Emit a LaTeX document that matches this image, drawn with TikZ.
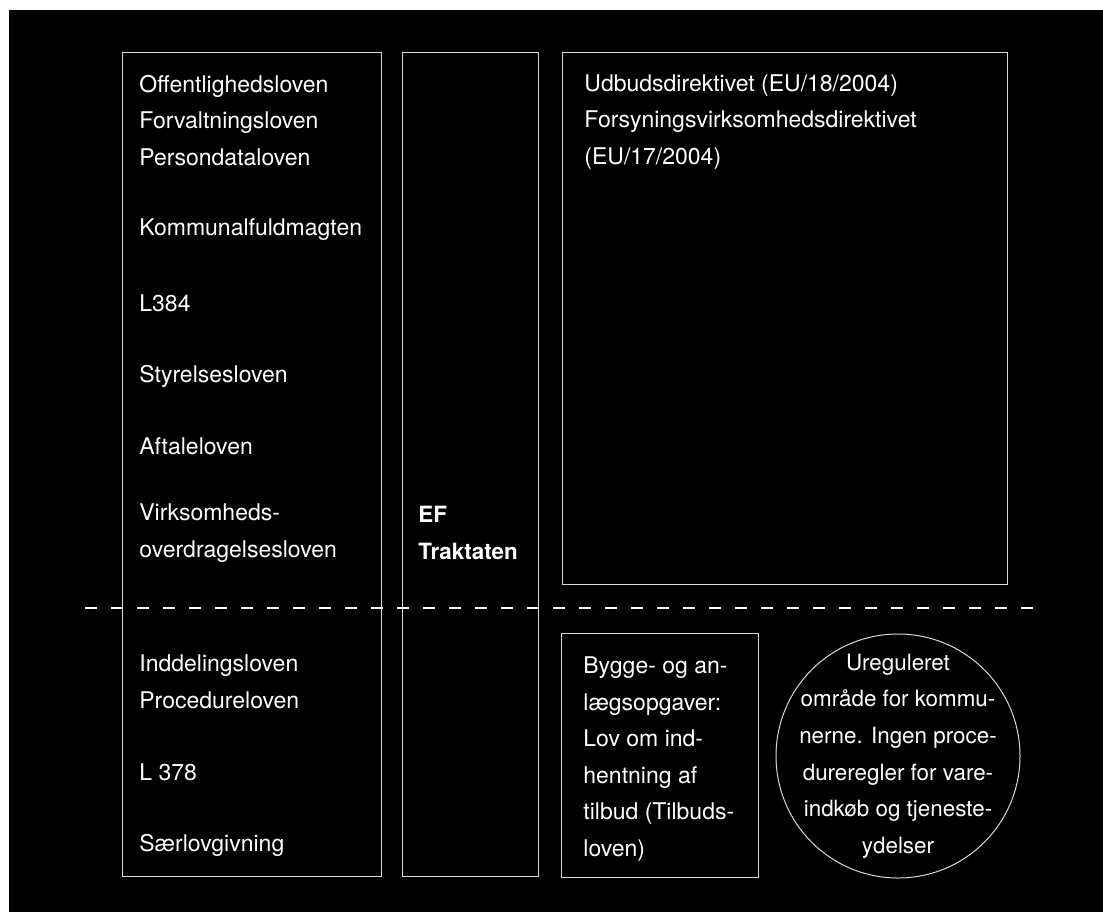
\documentclass[tikz,border=0pt]{standalone}
\usepackage{fontspec}
\setmainfont{TeX Gyre Heros}
\usetikzlibrary{shapes,shapes.geometric,calc}
\tikzstyle{frame} = [rectangle, draw=white!85!black, line width=0.5pt, inner sep=0pt]
\tikzstyle{ring} = [circle, draw=white!85!black, line width=0.5pt, inner sep=0pt, minimum size=122pt]
\tikzstyle{law} = [text=white, align=left, anchor=west, inner sep=0pt, %
font=\fontsize{11.5}{18.3}\selectfont]
\tikzstyle{divider} = [draw=white, line width=1pt, dash pattern=on 6pt off 7pt]

\begin{document}
\begin{tikzpicture}[x=0.5pt, y=-0.5pt]
    \useasboundingbox (0,0) rectangle (1103,912);
    \fill[black] (8.6,10) rectangle (1103,912);
    % frames
    \node[frame, minimum width=129.5pt, minimum height=412pt] (national) at (251.5,464) {};
    \node[frame, minimum width=68pt, minimum height=412pt] (treaty) at (470,464) {};
    \node[frame, minimum width=222.5pt, minimum height=266pt] (directives) at (784.5,318) {};
    \node[frame, minimum width=98.5pt, minimum height=122pt] (tenderlaw) at (659.5,755) {};
    \node[ring] (unregulated) at (898,756) {};
    % national laws
    \node[law] (admin) at (139,120.5) {Offentlighedsloven\\Forvaltningsloven\\Persondataloven};
    \node[law] (kommunal) at (139,230) {Kommunalfuldmagten};
    \node[law] (l384) at (139,303) {L384};
    \node[law] (styrelse) at (139,376) {Styrelsesloven};
    \node[law] (aftale) at (139,446) {Aftaleloven};
    \node[law] (overdrag) at (139,533) {Virksomheds-\\overdragelsesloven};
    \node[law] (inddeling) at (139,681.5) {Inddelingsloven\\Procedureloven};
    \node[law] (l378) at (139,772.5) {L 378};
    \node[law] (saerlov) at (139,845) {Særlovgivning};
    % treaty and directives
    \node[law, font=\fontsize{11.2}{18.3}\selectfont\bfseries] (ef) at (418,533) {EF\\Traktaten};
    \node[law] (udbud) at (584,122) {Udbudsdirektivet (EU/18/2004)\\Forsyningsvirksomhedsdirektivet\\(EU/17/2004)};
    \node[law] (tilbud) at (583,759) {Bygge- og an-\\lægsopgaver:\\Lov om ind-\\hentning af\\tilbud (Tilbuds-\\loven)};
    \node[law, align=center, anchor=center, font=\fontsize{11.2}{18.3}\selectfont] (ureg) at (unregulated.center) {Ureguleret\\område for kommu-\\nerne. Ingen proce-\\dureregler for vare-\\indkøb og tjeneste-\\ydelser};
    % threshold line
    \coordinate (thr-l) at (85,608);
    \coordinate (thr-r) at (1033,608);
    \path[divider] (thr-l) -- (thr-r);
\end{tikzpicture}
\end{document}
